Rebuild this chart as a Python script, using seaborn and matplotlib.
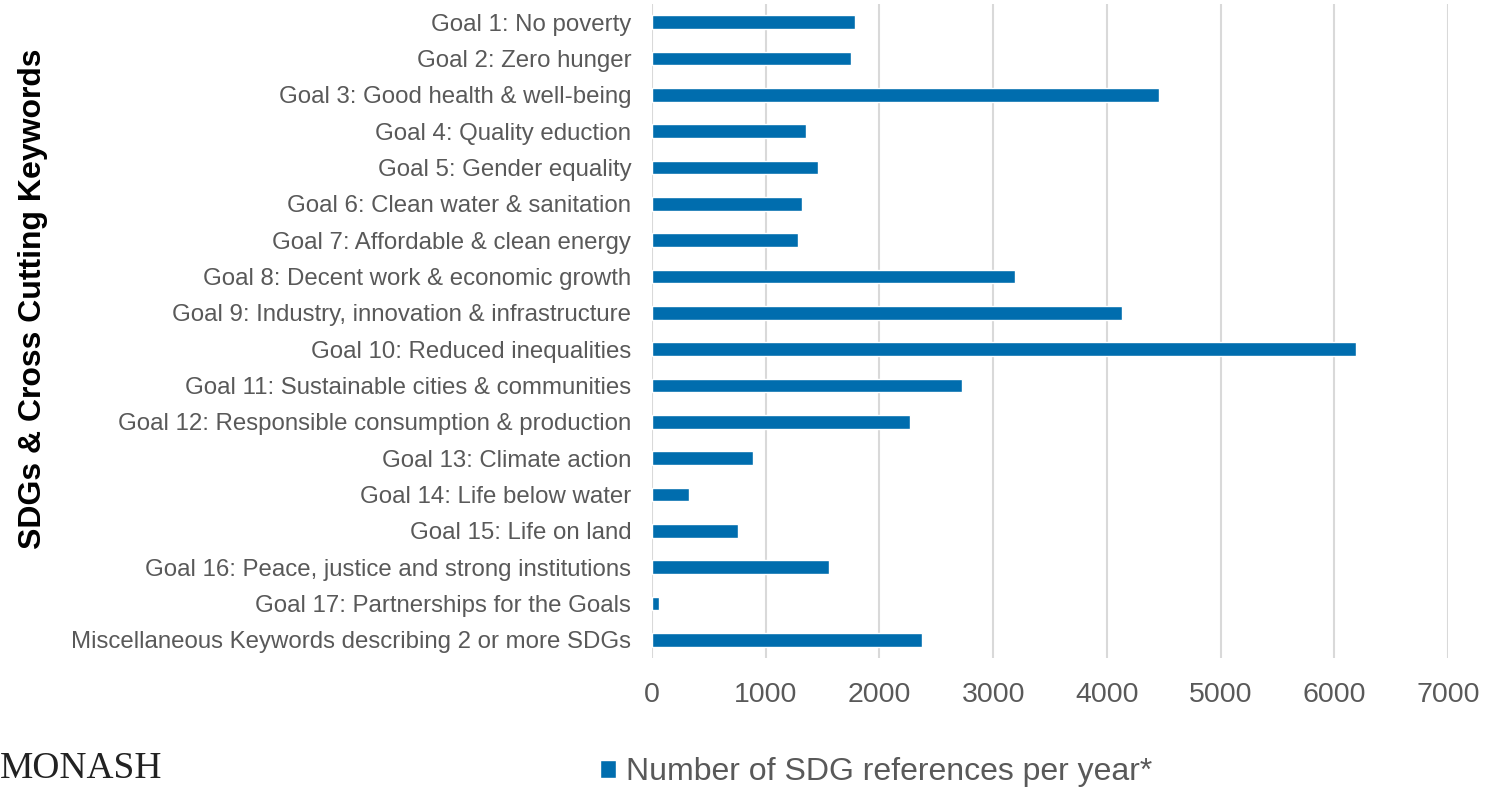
import matplotlib
matplotlib.use('Agg')
import matplotlib.pyplot as plt
import pandas as pd
import seaborn as sns

goals = ['Goal 1: No poverty',
         'Goal 2: Zero hunger',
         'Goal 3: Good health & well-being',
         'Goal 4: Quality eduction',
         'Goal 5: Gender equality',
         'Goal 6: Clean water & sanitation',
         'Goal 7: Affordable & clean energy',
         'Goal 8: Decent work & economic growth',
         'Goal 9: Industry, innovation & infrastructure',
         'Goal 10: Reduced inequalities',
         'Goal 11: Sustainable cities & communities',
         'Goal 12: Responsible consumption & production',
         'Goal 13: Climate action',
         'Goal 14: Life below water',
         'Goal 15: Life on land',
         'Goal 16: Peace, justice and strong institutions',
         'Goal 17: Partnerships for the Goals',
         'Miscellaneous Keywords describing 2 or more SDGs']
refs = [1785, 1750, 4459, 1354, 1460, 1319, 1284, 3190, 4130, 6190,
        2722, 2269, 892, 325, 752, 1557, 62, 2370]
xticks = [0, 1000, 2000, 3000, 4000, 5000, 6000, 7000]
series_name = 'Number of SDG references per year*'

df = pd.DataFrame({'goal': goals, 'refs': refs})

sns.set_style('white')
plt.rcParams['font.family'] = ['Liberation Sans', 'DejaVu Sans']
grey = '#595959'
blue = '#006DAE'

fig = plt.figure(figsize=(14.88, 7.88), dpi=100)
ax = fig.add_axes([652/1488, 1-658/788, (1448-652)/1488, (658-4)/788])

sns.barplot(data=df, x='refs', y='goal', orient='h', color=blue,
            width=0.37, saturation=1, label=series_name, ax=ax)

ax.set_xlim(0, 7000)
ax.set_xticks(xticks)
ax.grid(axis='x', color='#D9D9D9', linewidth=1.5)
ax.set_axisbelow(True)
for s in ax.spines.values():
    s.set_visible(False)
ax.tick_params(axis='x', length=0, pad=17, labelsize=20.5, labelcolor=grey)
ax.tick_params(axis='y', length=0, pad=15, labelsize=17.3, labelcolor=grey)
ax.set_xlabel('')
ax.set_ylabel('')

fig.text(33/1488, 1-299/788, 'SDGs & Cross Cutting Keywords', rotation=90,
         ha='center', va='center', fontsize=23, fontweight='bold', color='black')

if ax.legend_:
    ax.legend_.remove()
h, l = ax.get_legend_handles_labels()
fig.legend(h, l, loc='center', bbox_to_anchor=(876/1488, 1-772/788),
           frameon=False, fontsize=23, labelcolor=grey,
           handlelength=0.5, handleheight=0.5, handletextpad=0.3)

fig.text(0.0, 0.002, 'MONASH', ha='left', va='bottom', fontsize=27,
         family='Liberation Serif', color='#222222')

fig.savefig('out.png', dpi=100)
